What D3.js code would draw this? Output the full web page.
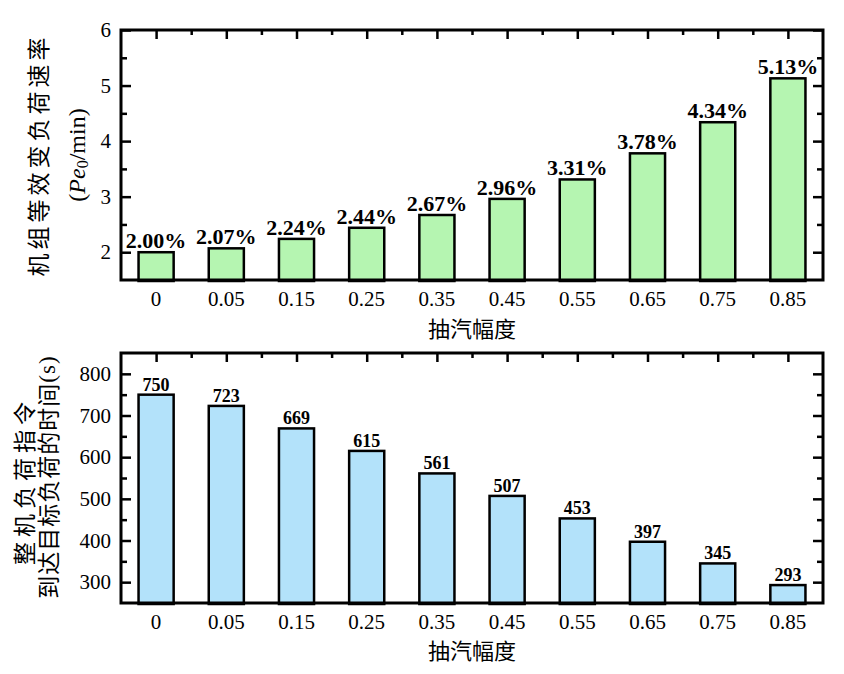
<!DOCTYPE html>
<html><head><meta charset="utf-8">
<script src="https://cdn.jsdelivr.net/npm/d3@7"></script>
<style>body{margin:0;background:#fff}svg{display:block}</style>
</head><body>
<script>
const categories = ["0","0.05","0.15","0.25","0.35","0.45","0.55","0.65","0.75","0.85"];
const rateValues = [2.00,2.07,2.24,2.44,2.67,2.96,3.31,3.78,4.34,5.13];
const rateLabels = ["2.00%","2.07%","2.24%","2.44%","2.67%","2.96%","3.31%","3.78%","4.34%","5.13%"];
const timeValues = [750,723,669,615,561,507,453,397,345,293];
const rateTicks = [2,3,4,5,6];
const rateMinor = [2.5,3.5,4.5,5.5];
const timeTicks = [300,400,500,600,700,800];
const timeMinor = [350,450,550,650,750];

const W=844,H=674;
const serif='"Liberation Serif","Times New Roman",serif';
const cjk='"Noto Sans CJK SC","Noto Sans",sans-serif';
const svg=d3.select("body").append("svg").attr("width",W).attr("height",H);
svg.append("rect").attr("width",W).attr("height",H).attr("fill","#fff");

const L=121,R=823;
const x=d3.scaleBand().domain(categories).range([L,R]).paddingInner(0.5).paddingOuter(0.25);

function panel(opts){
  const {top,bottom,domain,values,labels,majors,minors,fill,labelSize}=opts;
  const y=d3.scaleLinear().domain(domain).range([bottom,top]);
  const g=svg.append("g");
  g.selectAll("rect.bar").data(values).join("rect").attr("class","bar")
    .attr("x",(d,i)=>x(categories[i])).attr("width",x.bandwidth())
    .attr("y",d=>y(d)).attr("height",d=>bottom-y(d)+1)
    .attr("fill",fill).attr("stroke","#000").attr("stroke-width",2.5);
  g.selectAll("text.val").data(values).join("text").attr("class","val")
    .attr("x",(d,i)=>x(categories[i])+x.bandwidth()/2).attr("y",d=>y(d)-4)
    .attr("text-anchor","middle").attr("font-family",serif).attr("font-weight","bold")
    .attr("font-size",labelSize).text((d,i)=>labels[i]);
  const la=g.append("g").attr("transform",`translate(${L},0)`)
    .call(d3.axisLeft(y).tickValues(majors).tickSize(-10).tickPadding(10).tickFormat(d3.format("d")));
  la.select(".domain").remove();
  la.selectAll("line").attr("stroke-width",2.5);
  la.selectAll("text").attr("font-family",serif).attr("font-size",21).attr("fill","#000");
  const lm=g.append("g").attr("transform",`translate(${L},0)`)
    .call(d3.axisLeft(y).tickValues(minors).tickSize(-6).tickFormat(""));
  lm.select(".domain").remove(); lm.selectAll("line").attr("stroke-width",2.5);
  const ra=g.append("g").attr("transform",`translate(${R},0)`)
    .call(d3.axisRight(y).tickValues(majors).tickSize(-10).tickFormat(""));
  ra.select(".domain").remove(); ra.selectAll("line").attr("stroke-width",2.5);
  const rm=g.append("g").attr("transform",`translate(${R},0)`)
    .call(d3.axisRight(y).tickValues(minors).tickSize(-6).tickFormat(""));
  rm.select(".domain").remove(); rm.selectAll("line").attr("stroke-width",2.5);
  const xc=d3.scaleLinear().domain([0,categories.length-1])
    .range([x(categories[0])+x.bandwidth()/2, x(categories[categories.length-1])+x.bandwidth()/2]);
  const ta=g.append("g").attr("transform",`translate(0,${top})`)
    .call(d3.axisTop(xc).tickValues(d3.range(categories.length)).tickSize(-9).tickFormat(""));
  ta.select(".domain").remove(); ta.selectAll("line").attr("stroke-width",2.5);
  const tm=g.append("g").attr("transform",`translate(0,${top})`)
    .call(d3.axisTop(xc).tickValues(d3.range(categories.length-1).map(i=>i+0.5)).tickSize(-5).tickFormat(""));
  tm.select(".domain").remove(); tm.selectAll("line").attr("stroke-width",2.5);
  const ba=g.append("g").attr("transform",`translate(0,${bottom})`)
    .call(d3.axisBottom(x).tickSize(0).tickPadding(11));
  ba.select(".domain").remove();
  ba.selectAll("text").attr("font-family",serif).attr("font-size",21).attr("fill","#000");
  g.append("rect").attr("x",L).attr("y",top).attr("width",R-L).attr("height",bottom-top)
    .attr("fill","none").attr("stroke","#000").attr("stroke-width",3);
  g.append("text").attr("x",(L+R)/2).attr("y",bottom+opts.xTitleDy).attr("text-anchor","middle")
    .attr("font-family",cjk).attr("font-size",22).text("抽汽幅度");
  return y;
}

panel({top:30,bottom:280,domain:[1.5,6],values:rateValues,labels:rateLabels,majors:rateTicks,minors:rateMinor,fill:"#b5f5b1",labelSize:22,xTitleDy:57});
panel({top:353,bottom:603,domain:[250,850],values:timeValues,labels:timeValues.map(String),majors:timeTicks,minors:timeMinor,fill:"#b3e2fa",labelSize:18,xTitleDy:56});

svg.append("text").attr("transform","translate(37,155) rotate(-90)")
  .attr("text-anchor","middle").attr("dominant-baseline","central")
  .attr("font-family",cjk).attr("font-size",23).attr("letter-spacing",4).text("机组等效变负荷速率");
const t2=svg.append("text").attr("transform","translate(77,155) rotate(-90)")
  .attr("text-anchor","middle").attr("dominant-baseline","central")
  .attr("font-family",serif).attr("font-size",24);
t2.append("tspan").text("(");
t2.append("tspan").attr("font-style","italic").text("Pe");
t2.append("tspan").attr("font-size",16).attr("dy",5).text("0");
t2.append("tspan").attr("dy",-5).text("/min)");
svg.append("text").attr("transform","translate(23,481) rotate(-90)")
  .attr("text-anchor","middle").attr("dominant-baseline","central")
  .attr("font-family",cjk).attr("font-size",23).attr("letter-spacing",5).text("整机负荷指令");
const t4=svg.append("text").attr("transform","translate(47,477) rotate(-90)")
  .attr("text-anchor","middle").attr("dominant-baseline","central")
  .attr("font-family",cjk).attr("font-size",23).attr("letter-spacing",1);
t4.append("tspan").text("到达目标负荷的时间");
t4.append("tspan").attr("font-family",serif).text("(s)");
</script>
</body></html>
